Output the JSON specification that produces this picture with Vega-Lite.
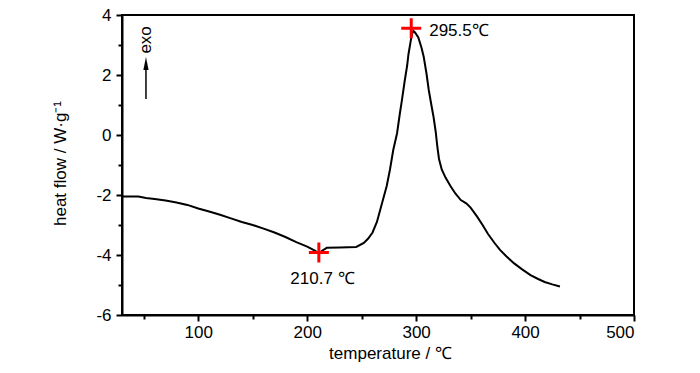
{
  "$schema": "https://vega.github.io/schema/vega-lite/v6.json",
  "width": 512,
  "height": 300,
  "autosize": {"type": "none"},
  "padding": {"left": 122, "top": 15, "right": 66, "bottom": 58},
  "background": "white",
  "config": {
    "font": "Liberation Sans",
    "view": {"stroke": "black", "strokeWidth": 2},
    "axis": {
      "domainColor": "black", "domainWidth": 2,
      "tickColor": "black", "tickWidth": 2,
      "labelColor": "black", "labelFontSize": 17, "labelFont": "Liberation Sans",
      "titleColor": "black", "titleFontSize": 17, "titleFontWeight": "normal", "titleFont": "Liberation Sans",
      "grid": false
    }
  },
  "datasets": {
    "curve": [
      {"t": 30, "h": -2.05}, {"t": 45, "h": -2.05}, {"t": 52, "h": -2.1}, {"t": 60, "h": -2.13},
      {"t": 70, "h": -2.18}, {"t": 80, "h": -2.25}, {"t": 90, "h": -2.33}, {"t": 100, "h": -2.45},
      {"t": 110, "h": -2.55}, {"t": 120, "h": -2.66}, {"t": 130, "h": -2.78}, {"t": 140, "h": -2.9},
      {"t": 150, "h": -3.0}, {"t": 160, "h": -3.12}, {"t": 170, "h": -3.25}, {"t": 180, "h": -3.4},
      {"t": 190, "h": -3.57}, {"t": 200, "h": -3.72}, {"t": 207, "h": -3.85}, {"t": 210.7, "h": -3.95},
      {"t": 214, "h": -3.85}, {"t": 218, "h": -3.76}, {"t": 230, "h": -3.75}, {"t": 245, "h": -3.73},
      {"t": 252, "h": -3.6}, {"t": 256, "h": -3.45}, {"t": 260, "h": -3.25}, {"t": 264, "h": -2.9},
      {"t": 267, "h": -2.5}, {"t": 270, "h": -2.1}, {"t": 273, "h": -1.7}, {"t": 276, "h": -1.15},
      {"t": 279, "h": -0.5}, {"t": 282.5, "h": 0.06}, {"t": 285, "h": 0.7}, {"t": 287, "h": 1.17},
      {"t": 289.5, "h": 1.8}, {"t": 291.7, "h": 2.3}, {"t": 293, "h": 2.7}, {"t": 294.7, "h": 3.06},
      {"t": 296, "h": 3.35}, {"t": 297.5, "h": 3.47}, {"t": 299, "h": 3.42}, {"t": 302, "h": 3.25},
      {"t": 305, "h": 2.9}, {"t": 307, "h": 2.6}, {"t": 309.5, "h": 2.05}, {"t": 311.6, "h": 1.5},
      {"t": 314, "h": 1.0}, {"t": 316, "h": 0.6}, {"t": 318, "h": 0.1}, {"t": 319.5, "h": -0.4},
      {"t": 321, "h": -0.8}, {"t": 323.5, "h": -1.15}, {"t": 327, "h": -1.42}, {"t": 331.5, "h": -1.7},
      {"t": 336, "h": -1.95}, {"t": 341, "h": -2.17}, {"t": 346, "h": -2.28}, {"t": 350, "h": -2.42},
      {"t": 356, "h": -2.72}, {"t": 361, "h": -3.0}, {"t": 366, "h": -3.3}, {"t": 372, "h": -3.6},
      {"t": 377, "h": -3.83}, {"t": 383, "h": -4.05}, {"t": 390, "h": -4.28}, {"t": 397, "h": -4.47},
      {"t": 405, "h": -4.67}, {"t": 412, "h": -4.8}, {"t": 418, "h": -4.9}, {"t": 425, "h": -4.98},
      {"t": 432, "h": -5.05}
    ],
    "peaks": [
      {"t": 295.5, "h": 3.56},
      {"t": 210.7, "h": -3.92}
    ],
    "labels": [
      {"t": 312, "h": 3.47, "label": "295.5℃"},
      {"t": 184.5, "h": -4.8, "label": "210.7 ℃"}
    ],
    "exo": [{"t": 52, "h": 3.17, "label": "exo"}],
    "arrow": [{"t": 52, "h": 1.2, "h2": 2.3}],
    "arrowhead": [{"t": 52, "h": 2.38}]
  },
  "encoding": {
    "x": {
      "field": "t", "type": "quantitative",
      "scale": {"domain": [30, 500], "nice": false, "zero": false},
      "axis": {
        "title": "temperature / ℃",
        "values": [50, 100, 150, 200, 250, 300, 350, 400, 450, 500],
        "labelExpr": "datum.value % 100 === 0 ? toString(datum.value) : ''",
        "tickSize": {"condition": {"test": "datum.value % 100 === 0", "value": 6}, "value": 4},
        "labelPadding": 3,
        "titleX": 268, "titleY": 38, "titleBaseline": "middle", "titleAlign": "center"
      }
    },
    "y": {
      "field": "h", "type": "quantitative",
      "scale": {"domain": [-6, 4], "nice": false, "zero": false},
      "axis": {
        "title": "heat flow / W·g⁻¹",
        "values": [-6, -5, -4, -3, -2, -1, 0, 1, 2, 3, 4],
        "labelExpr": "datum.value % 2 === 0 ? toString(datum.value) : ''",
        "tickSize": {"condition": {"test": "datum.value % 2 === 0", "value": 6}, "value": 4},
        "labelPadding": 5,
        "titleX": -62, "titleY": 148, "titleBaseline": "middle", "titleAlign": "center", "titleAngle": 270
      }
    }
  },
  "layer": [
    {
      "data": {"name": "curve"},
      "mark": {"type": "line", "color": "black", "strokeWidth": 2, "clip": true}
    },
    {
      "data": {"name": "arrow"},
      "mark": {"type": "rule", "color": "black", "strokeWidth": 1.5},
      "encoding": {"y2": {"field": "h2"}}
    },
    {
      "data": {"name": "arrowhead"},
      "mark": {"type": "point", "shape": "M0,-1L-0.4,1L0.4,1Z", "size": 169, "filled": true, "color": "black", "opacity": 1}
    },
    {
      "data": {"name": "exo"},
      "mark": {"type": "text", "angle": 270, "fontSize": 17, "color": "black", "align": "center", "baseline": "middle"},
      "encoding": {"text": {"field": "label"}}
    },
    {
      "data": {"name": "peaks"},
      "mark": {"type": "point", "shape": "M-1,0H1M0,-1V1", "size": 400, "filled": false, "stroke": "#ff0000", "strokeWidth": 3, "opacity": 1}
    },
    {
      "data": {"name": "labels"},
      "mark": {"type": "text", "fontSize": 17, "color": "black", "align": "left", "baseline": "middle"},
      "encoding": {"text": {"field": "label"}}
    }
  ]
}
